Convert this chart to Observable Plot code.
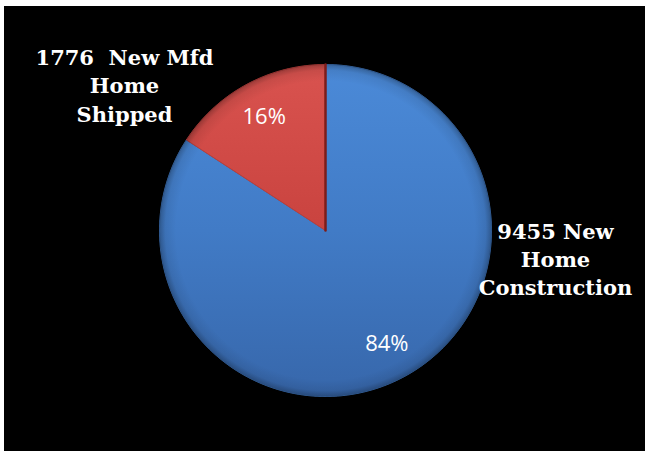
<!DOCTYPE html>
<html><head><meta charset="utf-8">
<script src="https://cdn.jsdelivr.net/npm/d3@7"></script>
<script src="https://cdn.jsdelivr.net/npm/@observablehq/plot@0.6"></script>
<style>
html,body{margin:0;padding:0;background:#fff;}
#wrap{padding:6px 0 0 4px;}
#wrap svg{display:block;background:#000;}
#wrap text{white-space:pre;}
</style></head><body><div id="wrap"></div>
<script>
// Data (Excel-style pie, first slice from 12 o'clock clockwise)
const categories = ["New Home Construction", "New Mfd Home Shipped"];
const values = [9455, 1776];
const outerLabels = ["9455 New\nHome\nConstruction", "1776  New Mfd\nHome\nShipped"];

const total = d3.sum(values);
const arcs = d3.pie().sort(null).value(d => d)(values);

// slice outlines in unit-circle data space
const slicePts = arcs.map((a) => {
  const n = Math.max(4, Math.ceil((a.endAngle - a.startAngle) / 0.005));
  const ring = [{x: 0, y: 0}];
  for (let k = 0; k <= n; k++) {
    const t = a.startAngle + (a.endAngle - a.startAngle) * k / n;
    ring.push({x: Math.sin(t), y: Math.cos(t)});
  }
  ring.push({x: 0, y: 0});
  return ring;
});
const pct = arcs.map((a, i) => {
  const m = (a.startAngle + a.endAngle) / 2;
  return {x: 0.775 * Math.sin(m), y: 0.775 * Math.cos(m), text: d3.format(".0%")(values[i] / total)};
});
const redEdge = [{x: 0, y: 0}, {x: Math.sin(arcs[1].endAngle), y: Math.cos(arcs[1].endAngle)}];

const W = 641, H = 445, cx = 321, cy = 224, R = 166;
const fills = ["url(#gBlue)", "url(#gRed)"];
const chart = Plot.plot({
  width: W, height: H, margin: 0,
  x: {domain: [-1, 1], range: [cx - R, cx + R], axis: null},
  y: {domain: [-1, 1], range: [cy + R, cy - R], axis: null},
  style: {background: "#000", overflow: "visible"},
  marks: [
    ...slicePts.map((p, i) => Plot.line(p, {x: "x", y: "y", fill: fills[i], stroke: i === 0 ? "#3b6fb3" : "#b93f3c", strokeWidth: 1, curve: "linear"})),
    ...slicePts.map((p) => Plot.line(p, {x: "x", y: "y", fill: "url(#gBevel)", stroke: "none"})),
    Plot.line(redEdge, {x: "x", y: "y", stroke: "#7d1c1a", strokeWidth: 2.5}),
    Plot.text(pct, {x: "x", y: "y", text: "text", fill: "#fff", fontSize: 22, fontFamily: "Open Sans"}),
    Plot.text([outerLabels[1]], {text: d => d, frameAnchor: "top-left", dx: 120, dy: 38, textAnchor: "middle", lineAnchor: "top", lineHeight: 1.36, fontFamily: "DejaVu Serif", fontWeight: "bold", fontSize: 21, fill: "#fff"}),
    Plot.text([outerLabels[0]], {text: d => d, frameAnchor: "top-left", dx: 551, dy: 213, textAnchor: "middle", lineAnchor: "top", lineHeight: 1.32, fontFamily: "DejaVu Serif", fontWeight: "bold", fontSize: 21, fill: "#fff"})
  ]
});
const sx = chart.scale("x"), sy = chart.scale("y");
const pcx = sx.apply(0), pcy = sy.apply(0), pr = sx.apply(1) - sx.apply(0);
const defs = d3.select(chart).insert("defs", ":first-child");
const lg = (id, stops) => {
  const g = defs.append("linearGradient").attr("id", id).attr("gradientUnits", "userSpaceOnUse")
    .attr("x1", pcx).attr("y1", pcy - pr).attr("x2", pcx).attr("y2", pcy + pr);
  stops.forEach(([o, c]) => g.append("stop").attr("offset", o).attr("stop-color", c));
};
lg("gBlue", [[0, "#4b8ad8"], [0.5, "#417bc6"], [1, "#3767ab"]]);
lg("gRed", [[0, "#d9534f"], [0.5, "#c9433f"], [1, "#b33835"]]);
const rg = defs.append("radialGradient").attr("id", "gBevel").attr("gradientUnits", "userSpaceOnUse")
  .attr("cx", pcx).attr("cy", pcy).attr("r", pr);
[[0, "#000", 0], [0.9, "#000", 0], [0.965, "#000", 0.08], [1, "#000", 0.28]]
  .forEach(([o, c, a]) => rg.append("stop").attr("offset", o).attr("stop-color", c).attr("stop-opacity", a));
document.getElementById("wrap").append(chart);
</script></body></html>
